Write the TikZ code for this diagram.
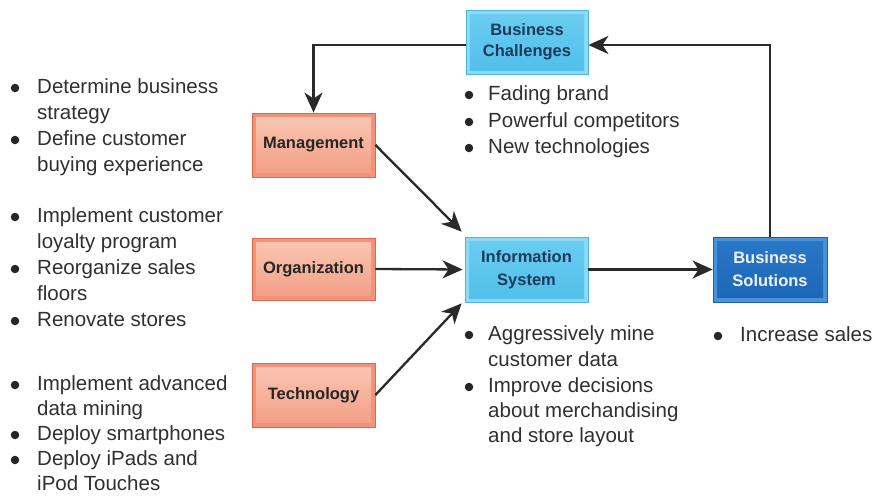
\documentclass[tikz,border=0pt]{standalone}
\usepackage{fontspec}
\setmainfont{Liberation Sans}
\usetikzlibrary{arrows.meta}
\definecolor{txt}{HTML}{303030}
\definecolor{navytxt}{HTML}{1D3A5A}
\definecolor{cyanedge}{HTML}{4DB6E2}
\definecolor{cyanrim}{HTML}{8ED9F6}
\definecolor{cyantop}{HTML}{6CCDF1}
\definecolor{cyanbot}{HTML}{4FBFEA}
\definecolor{oredge}{HTML}{E0674C}
\definecolor{orrim}{HTML}{F2927A}
\definecolor{ortop}{HTML}{FAC8B3}
\definecolor{orbot}{HTML}{F29C84}
\definecolor{bledge}{HTML}{1A5FAA}
\definecolor{blrim}{HTML}{4A91DA}
\definecolor{bltop}{HTML}{2A78C8}
\definecolor{blbot}{HTML}{1B66B8}
\definecolor{arrowc}{HTML}{2A2A2A}
\begin{document}
\begin{tikzpicture}[x=1pt,y=-1pt,
  boxbase/.style={line width=0.8pt, align=center, inner sep=0pt,
    font=\fontsize{16.5}{21}\selectfont\bfseries},
  cyanbox/.style={boxbase, draw=cyanedge, fill=cyanrim, text=navytxt,
    path picture={\shade[top color=cyantop,bottom color=cyanbot]
      ([shift={(4pt,-4pt)}]path picture bounding box.north west) rectangle
      ([shift={(-4pt,4pt)}]path picture bounding box.south east);}},
  orbox/.style={boxbase, draw=oredge, fill=orrim, text=black!85,
    minimum width=123pt, minimum height=64pt,
    path picture={\shade[top color=ortop,bottom color=orbot]
      ([shift={(4pt,-4pt)}]path picture bounding box.north west) rectangle
      ([shift={(-4pt,5pt)}]path picture bounding box.south east);}},
  bluebox/.style={boxbase, draw=bledge, fill=blrim, text=white!95!blue,
    path picture={\shade[top color=bltop,bottom color=blbot]
      ([shift={(4pt,-4pt)}]path picture bounding box.north west) rectangle
      ([shift={(-4pt,5pt)}]path picture bounding box.south east);}},
  conn/.style={draw=arrowc, line width=2.3pt,
    -{Stealth[length=20pt,width=18pt,inset=6pt]}},
  ln/.style={anchor=west, inner sep=0pt, text=txt,
    font=\fontsize{20.5}{25}\selectfont, text height=15pt, text depth=4pt},
  dot/.style={circle, fill=black!85, inner sep=0pt, minimum size=8.5pt}
]
\useasboundingbox[fill=white] (0,0) rectangle (875,496);

% boxes
\node[cyanbox, minimum width=122pt, minimum height=64pt] (bc) at (527,42) {Business\\Challenges};
\node[orbox] (mg) at (313.5,145) {Management};
\node[orbox, minimum height=62pt] (og) at (313.5,269) {Organization};
\node[orbox] (tc) at (313.5,395) {Technology};
\node[cyanbox, minimum width=123pt, minimum height=65pt, font=\fontsize{16.5}{23}\selectfont\bfseries] (is) at (526.5,269.5) {Information\\System};
\node[bluebox, minimum width=114pt, minimum height=65pt, font=\fontsize{16.5}{23}\selectfont\bfseries] (bs) at (770,269.5) {Business\\Solutions};

% connectors
\coordinate (ismg) at ([shift={(-3pt,5pt)}]is.north west);
\coordinate (istc) at ([shift={(-3pt,-1pt)}]is.south west);
\draw[conn] ([yshift=-3pt]bc.west) -| (mg.north);
\draw[conn] (bs.north) |- ([yshift=-3pt]bc.east);
\draw[conn] (mg.east) -- (ismg);
\draw[conn, shorten >=2pt] (og.east) -- (is.west);
\draw[conn] (tc.east) -- (istc);
\draw[conn] (is.east) -- (bs.west);

% left bullets
\node[dot] (b1) at (15,88) {};
\node[ln] (l1) at (37,88) {Determine business};
\node[ln] (l2) at (37,114) {strategy};
\node[dot] (b2) at (15,140) {};
\node[ln] (l3) at (37,140) {Define customer};
\node[ln] (l4) at (37,166) {buying experience};
\node[dot] (b3) at (15,217) {};
\node[ln] (l5) at (37,217) {Implement customer};
\node[ln] (l6) at (37,243) {loyalty program};
\node[dot] (b4) at (15,269) {};
\node[ln] (l7) at (37,269) {Reorganize sales};
\node[ln] (l8) at (37,295) {floors};
\node[dot] (b5) at (15,321) {};
\node[ln] (l9) at (37,321) {Renovate stores};
\node[dot] (b6) at (15,385) {};
\node[ln] (l10) at (37,385) {Implement advanced};
\node[ln] (l11) at (37,410) {data mining};
\node[dot] (b7) at (15,435) {};
\node[ln] (l12) at (37,435) {Deploy smartphones};
\node[dot] (b8) at (15,460) {};
\node[ln] (l13) at (37,460) {Deploy iPads and};
\node[ln] (l14) at (37,485) {iPod Touches};

% challenges bullets
\node[dot] (c1) at (469,95) {};
\node[ln] (m1) at (488,95) {Fading brand};
\node[dot] (c2) at (469,122) {};
\node[ln] (m2) at (488,122) {Powerful competitors};
\node[dot] (c3) at (469,148) {};
\node[ln] (m3) at (488,148) {New technologies};

% information system bullets
\node[dot] (c4) at (469,335) {};
\node[ln] (m4) at (488,335) {Aggressively mine};
\node[ln] (m5) at (488,361) {customer data};
\node[dot] (c5) at (469,387) {};
\node[ln] (m6) at (488,387) {Improve decisions};
\node[ln] (m7) at (488,412) {about merchandising};
\node[ln] (m8) at (488,437) {and store layout};

% solutions bullet
\node[dot] (c6) at (718,336) {};
\node[ln] (r1) at (740,336) {Increase sales};
\end{tikzpicture}
\end{document}
